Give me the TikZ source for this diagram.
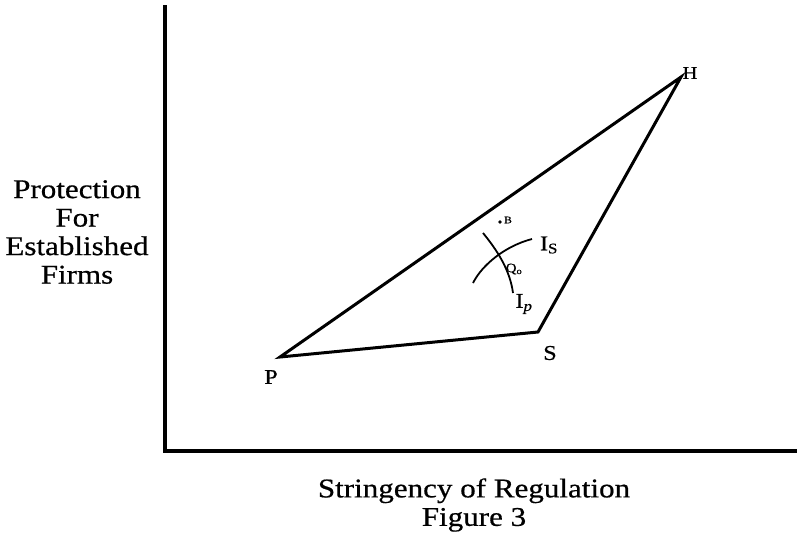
\documentclass[tikz,border=0pt]{standalone}
\usepackage{fontspec}
\setmainfont{Liberation Serif}[FakeStretch=1.15,FakeBold=0.6]

\begin{document}
\begin{tikzpicture}[x=1pt,y=-1pt,every node/.style={font=\fontsize{27}{28.5}\selectfont,inner sep=0pt}]
\useasboundingbox (0,0) rectangle (802,539);
% axes
\coordinate (top) at (165,5);
\coordinate (origin) at (165,451);
\coordinate (right) at (797,451);
\draw[line width=3.5pt] (top) -- (origin) -- (right);
\node[align=center] (ylab) at (77,232) {Protection\\For\\Established\\Firms};
\node[align=center] (xlab) at (474,505) {Stringency of Regulation\\Figure 3};
% regulation triangle
\coordinate (P) at (280,357);
\coordinate (S) at (538,332);
\coordinate (H) at (681,77);
\draw[line width=3pt,line join=miter] (P) -- (S) -- (H) -- cycle;
\node[font=\fontsize{21}{22}\selectfont] (plab) at (271,377) {P};
\node[font=\fontsize{21}{22}\selectfont] (slab) at (550,353) {S};
\node[font=\fontsize{18}{20}\selectfont] (hlab) at (690,73) {H};
% indifference curves
\draw[line width=1.8pt] (483,233) .. controls (497,250) and (510,270) .. (513,293);
\draw[line width=1.8pt] (473,283) .. controls (482,265) and (505,246) .. (532,239);
\fill (500,222) circle (1.8pt);
\node[font=\fontsize{10}{11}\selectfont] (blab) at (508,220) {B};
\node[font=\fontsize{13}{14}\selectfont] (qlab) at (514,269) {Q\textsubscript{o}};
\node[font=\fontsize{21}{22}\selectfont] (islab) at (549,245) {I\textsubscript{S}};
\node[font=\fontsize{21}{22}\selectfont] (iplab) at (524,304) {I\textsubscript{\itshape p}};
\end{tikzpicture}
\end{document}
